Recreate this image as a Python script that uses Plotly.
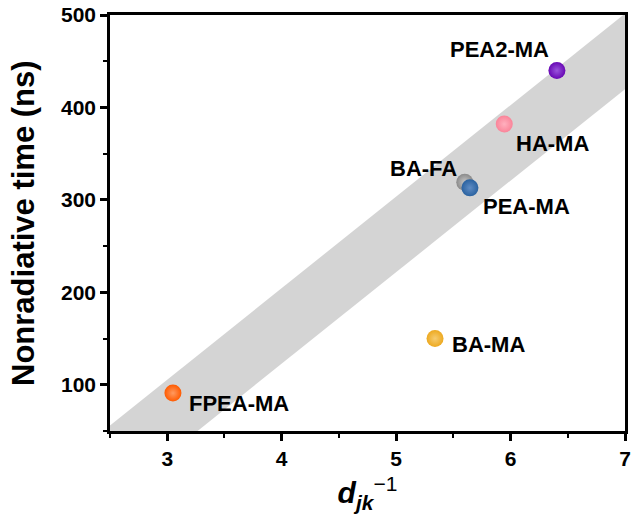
import plotly.graph_objects as go

# ---- data ----
names = ["FPEA-MA", "BA-MA", "BA-FA", "PEA-MA", "HA-MA", "PEA2-MA"]
x_vals = [3.05, 5.34, 5.60, 5.645, 5.945, 6.405]
y_vals = [91, 150, 319, 313, 382, 440]
band_x = [2.5, 7.0, 7.0, 3.265, 2.5]
band_y = [56, 501.5, 419.8, 50, 50]
x_ticks = [3, 4, 5, 6, 7]
y_ticks = [100, 200, 300, 400, 500]
y_title = "Nonradiative time (ns)"
x_title = "<b><i>d</i></b><sub><b><i>jk</i></b></sub><sup>−1</sup>"

# ---- styles ----
colors = ["#FF5A00", "#EDA920", "#8A8A8A", "#2A62A0", "#FA8499", "#6808B4"]
centers = ["#FF9A60", "#F6CC70", "#C8C8C8", "#5F8CC4", "#FFB0BE", "#9A55DC"]
# label placement: (xanchor, xshift, yshift)
label_pos = {
    "FPEA-MA": ("left", 14, -10),
    "BA-MA": ("left", 15, -6),
    "BA-FA": ("right", -6, 14),
    "PEA-MA": ("left", 11, -19),
    "HA-MA": ("left", 10, -19),
    "PEA2-MA": ("right", -6, 21),
}
FONT = "Arial, Liberation Sans, sans-serif"

fig = go.Figure()
fig.add_trace(go.Scatter(
    x=band_x, y=band_y, mode="lines", fill="toself",
    fillcolor="#D4D4D4", line=dict(width=0, color="#D4D4D4"),
    hoverinfo="skip", showlegend=False))

for i, n in enumerate(names):
    fig.add_trace(go.Scatter(
        x=[x_vals[i]], y=[y_vals[i]], mode="markers", showlegend=False,
        marker=dict(size=17, color=colors[i], line=dict(width=0),
                    gradient=dict(type="radial", color=centers[i]))))
    xa, xs, ys = label_pos[n]
    fig.add_annotation(x=x_vals[i], y=y_vals[i], text=n, showarrow=False,
                       xanchor=xa, yanchor="middle", xshift=xs, yshift=ys,
                       font=dict(family=FONT, size=22, color="black", weight="bold"))

# y-axis title as a rotated annotation for precise placement
fig.add_annotation(xref="paper", yref="paper", x=-0.169, y=0.5, text=y_title,
                   textangle=-90, showarrow=False, xanchor="center", yanchor="middle",
                   font=dict(family=FONT, size=31, color="black", weight="bold"))

axis_common = dict(
    showline=True, linecolor="black", linewidth=2.5, mirror=True,
    showgrid=False, zeroline=False, ticks="outside", ticklen=7, tickwidth=2.5,
    tickcolor="black", automargin=False,
    tickfont=dict(family=FONT, size=21, color="black", weight="bold"),
)

fig.update_xaxes(range=[2.5, 7], tickvals=x_ticks, **axis_common,
                 minor=dict(ticks="outside", ticklen=4, tickwidth=2, dtick=0.5,
                            tick0=2.5, tickcolor="black"),
                 title=dict(text=x_title,
                            font=dict(family=FONT, size=30, color="black"),
                            standoff=14))
fig.update_yaxes(range=[50, 500], tickvals=y_ticks, **axis_common,
                 minor=dict(ticks="outside", ticklen=4, tickwidth=2, dtick=50,
                            tick0=50, tickcolor="black"))

fig.update_layout(width=631, height=525,
                  margin=dict(l=110, r=6, t=15, b=94),
                  plot_bgcolor="white", paper_bgcolor="white")

fig.write_html("out.html")
